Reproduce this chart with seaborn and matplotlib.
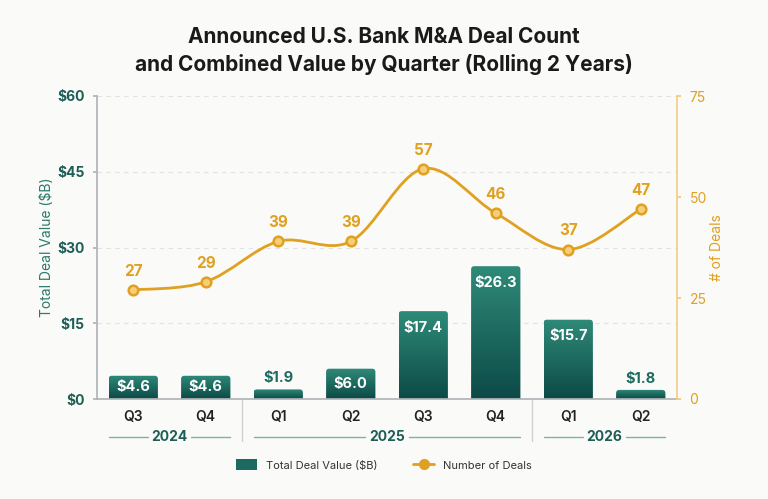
import numpy as np
import pandas as pd
import matplotlib
matplotlib.use("Agg")
import matplotlib.pyplot as plt
import matplotlib.transforms as mtransforms
from matplotlib.colors import LinearSegmentedColormap
from matplotlib.patches import FancyBboxPatch, Patch, PathPatch
from matplotlib.path import Path
from matplotlib.lines import Line2D
import seaborn as sns

# data
quarters = ["Q3", "Q4", "Q1", "Q2", "Q3", "Q4", "Q1", "Q2"]
years = ["2024", "2024", "2025", "2025", "2025", "2025", "2026", "2026"]
deal_value = [4.6, 4.6, 1.9, 6.0, 17.4, 26.3, 15.7, 1.8]
deal_count = [27, 29, 39, 39, 57, 46, 37, 47]

TEAL = "#1d6b60"
TEAL_DARK = "#0c4a47"
TEAL_LIGHT = "#2f8a78"
ORANGE = "#e0a020"
BG = "#fafaf8"

df = pd.DataFrame({"period": [f"{q} {y}" for q, y in zip(quarters, years)],
                   "value": deal_value, "deals": deal_count})

sns.set_theme(style="white")
plt.rcParams["font.family"] = ["Inter", "DejaVu Sans"]

fig = plt.figure(figsize=(7.68, 4.99), dpi=100, facecolor=BG)
ax = fig.add_axes([97 / 768, 100 / 499, 580 / 768, 303 / 499])
ax.set_facecolor(BG)

sns.barplot(data=df, x="period", y="value", width=0.68, color=TEAL, ax=ax)

ax.set_ylim(0, 60)
ax.set_xlim(-0.5, 7.5)
ax.set_yticks([0, 15, 30, 45, 60])
ax.set_yticklabels([f"${v}" for v in [0, 15, 30, 45, 60]])
ax.yaxis.grid(True, linestyle=(0, (4, 4)), color="#e2e2e2", lw=0.8)
ax.set_axisbelow(True)

# gradient bars with rounded tops
cmap = LinearSegmentedColormap.from_list("tealgrad", [TEAL_DARK, TEAL_LIGHT])
grad = np.linspace(0, 1, 128).reshape(-1, 1)
aspect = (60 / 303) / (8 / 580)
for p, v in zip(list(ax.patches), deal_value):
    x0, w = p.get_x(), p.get_width()
    p.set_visible(False)
    box = FancyBboxPatch((x0, -3), w, v + 3,
                         boxstyle="round,pad=0,rounding_size=0.045",
                         mutation_aspect=aspect, facecolor="none",
                         edgecolor="none", transform=ax.transData)
    ax.add_patch(box)
    im = ax.imshow(grad, extent=[x0, x0 + w, 0, v], origin="lower",
                   aspect="auto", cmap=cmap, zorder=2)
    im.set_clip_path(box)
    cx = x0 + w / 2
    if v >= 8:
        ax.annotate(f"${v:.1f}", (cx, v), xytext=(0, -7), textcoords="offset points",
                    ha="center", va="top", color="white", fontsize=10.5,
                    fontweight="bold", zorder=4)
    elif v >= 3:
        ax.annotate(f"${v:.1f}", (cx, v / 2), ha="center", va="center", color="white",
                    fontsize=10.5, fontweight="bold", zorder=4)
    else:
        ax.annotate(f"${v:.1f}", (cx, v), xytext=(0, 3), textcoords="offset points",
                    ha="center", va="bottom", color=TEAL, fontsize=10.5,
                    fontweight="bold", zorder=4)
ax.set_xlim(-0.5, 7.5)
ax.set_ylim(0, 60)

ax.set_xticks(range(len(quarters)))
ax.set_xticklabels(quarters)
ax.set_xlabel("")
ax.set_ylabel("Total Deal Value ($B)", color="#2a7a6a", fontsize=10, labelpad=2)
ax.tick_params(axis="x", length=0, pad=8, labelsize=10, labelcolor="#222222")
for t in ax.get_xticklabels():
    t.set_fontweight("semibold")
ax.tick_params(axis="y", length=3, color="#b0b4b8", labelsize=10, labelcolor="#1d5e57", pad=6)
for t in ax.get_yticklabels():
    t.set_fontweight("bold")
for s in ["top", "right"]:
    ax.spines[s].set_visible(False)
ax.spines["left"].set_color("#b0b4b8")
ax.spines["bottom"].set_color("#b0b4b8")

# line on secondary axis
ax2 = ax.twinx()
ax2.set_ylim(0, 75)
ax2.set_yticks([0, 25, 50, 75])
ax2.patch.set_visible(False)
xs = np.arange(len(deal_count), dtype=float)
ys = np.array(deal_count, dtype=float)
verts = [(xs[0], ys[0])]
codes = [Path.MOVETO]
n = len(xs)
for i in range(n - 1):
    p0 = np.array([xs[max(i - 1, 0)], ys[max(i - 1, 0)]])
    p1 = np.array([xs[i], ys[i]])
    p2 = np.array([xs[i + 1], ys[i + 1]])
    p3 = np.array([xs[min(i + 2, n - 1)], ys[min(i + 2, n - 1)]])
    c1 = p1 + (p2 - p0) / 6
    c2 = p2 - (p3 - p1) / 6
    verts += [tuple(c1), tuple(c2), tuple(p2)]
    codes += [Path.CURVE4] * 3
ax2.add_patch(PathPatch(Path(verts, codes), facecolor="none", edgecolor=ORANGE, lw=2, zorder=3))
sns.scatterplot(x=xs, y=ys, s=48, color="#f6cd78", edgecolor=ORANGE, linewidth=1.8,
                zorder=5, ax=ax2, legend=False)
for x, y in zip(xs, deal_count):
    ax2.annotate(str(y), (x, y), xytext=(0, 8), textcoords="offset points",
                 ha="center", va="bottom", color=ORANGE, fontsize=11, fontweight="bold")
ax2.set_xlim(-0.5, 7.5)
ax2.set_ylabel("# of Deals", color=ORANGE, fontsize=10, labelpad=2)
ax2.tick_params(axis="y", length=3, color="#f0c878", labelsize=10, labelcolor=ORANGE, pad=6)
for s in ["top", "left", "bottom"]:
    ax2.spines[s].set_visible(False)
ax2.spines["right"].set_color("#f0cf88")
ax2.grid(False)

# year groups under the axis
trans = mtransforms.blended_transform_factory(ax.transData, ax.transAxes)
year_groups = {}
for i, y in enumerate(years):
    year_groups.setdefault(y, []).append(i)
for y, idx in year_groups.items():
    lo, hi = idx[0] - 0.34, idx[-1] + 0.34
    mid = (idx[0] + idx[-1]) / 2
    ax.text(mid, -0.125, y, transform=trans, ha="center", va="center",
            fontsize=10, fontweight="bold", color="#1d5e57")
    gap = 0.3
    for a, b in [(lo, mid - gap), (mid + gap, hi)]:
        ax.add_line(Line2D([a, b], [-0.125, -0.125], transform=trans, color="#7fb0a8",
                           lw=1, clip_on=False))
for i in range(1, len(years)):
    if years[i] != years[i - 1]:
        ax.add_line(Line2D([i - 0.5, i - 0.5], [0, -0.14], transform=trans,
                           color="#cfd2d4", lw=1, clip_on=False))

fig.text(0.5, 1 - 51 / 499,
         "Announced U.S. Bank M&A Deal Count\nand Combined Value by Quarter (Rolling 2 Years)",
         ha="center", va="center", fontsize=15, fontweight="bold", color="#1a1a1a",
         linespacing=1.45)

handles = [Patch(facecolor=TEAL, edgecolor="none"),
           Line2D([0], [0], color=ORANGE, lw=2, marker="o", markersize=7,
                  markerfacecolor=ORANGE, markeredgecolor=ORANGE)]
fig.legend(handles, ["Total Deal Value ($B)", "Number of Deals"], loc="center",
           bbox_to_anchor=(0.5, 1 - 465 / 499), ncol=2, frameon=False, fontsize=8,
           handlelength=1.9, handleheight=1.1, columnspacing=3.2, labelcolor="#333333")

fig.savefig("out.png", dpi=100, facecolor=BG)
